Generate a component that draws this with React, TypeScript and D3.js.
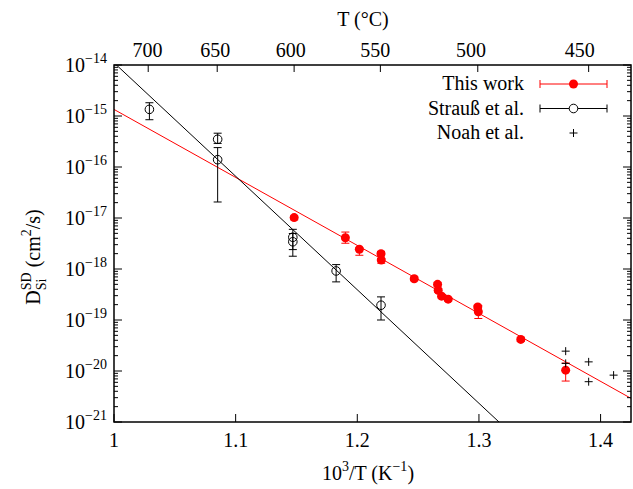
import React from "react";
import * as d3 from "d3";

// ---- data ----
// This work: [1000/T (1/K), D (cm^2/s), err low, err high]
const thisWorkX = [1.1481, 1.1902, 1.2017, 1.2195, 1.2197, 1.2468, 1.266, 1.2665, 1.2693, 1.2747, 1.299, 1.2995, 1.3344, 1.3713];
const thisWorkD = [1.02e-17, 4.1e-18, 2.44e-18, 2.0e-18, 1.5e-18, 6.45e-19, 5.0e-19, 3.84e-19, 2.93e-19, 2.56e-19, 1.8e-19, 1.45e-19, 4.16e-20, 1.04e-20];
const thisWorkLo = [9.2e-18, 3.2e-18, 1.86e-18, 1.8e-18, 1.3e-18, 5.9e-19, 4.6e-19, 3.5e-19, 2.7e-19, 2.35e-19, 1.65e-19, 1.07e-19, 3.8e-20, 6.35e-21];
const thisWorkHi = [1.1e-17, 5.3e-18, 2.6e-18, 2.2e-18, 1.6e-18, 7.0e-19, 5.4e-19, 4.1e-19, 3.1e-19, 2.75e-19, 1.95e-19, 1.9e-19, 4.5e-20, 1.43e-20];

// Strauß et al.
const straussX = [1.0291, 1.0852, 1.0852, 1.147, 1.147, 1.1826, 1.2195];
const straussD = [1.35e-15, 3.5e-16, 1.39e-16, 4.19e-18, 3.42e-18, 9.16e-19, 1.95e-19];
const straussLo = [8.45e-16, 2.9e-16, 2.06e-17, 2.4e-18, 1.78e-18, 5.59e-19, 1.0e-19];
const straussHi = [1.82e-15, 4.6e-16, 2.4e-16, 6.0e-18, 4.96e-18, 1.22e-18, 2.84e-19];

// Noah et al.
const noahX = [1.3713, 1.3713, 1.3902, 1.3902, 1.4107];
const noahD = [2.45e-20, 1.41e-20, 1.51e-20, 6.17e-21, 8.3e-21];

// Arrhenius fits: log10 D = a - b * (1000/T - 1)
const fitThisWork = { a: -14.871, b: 13.33 };
const fitStrauss = { a: -13.955, b: 22.26 };

const xTicks = [1, 1.1, 1.2, 1.3, 1.4];
const xTickLabels = ["1", "1.1", "1.2", "1.3", "1.4"];
const yExps = [-14, -15, -16, -17, -18, -19, -20, -21];
const topTempsC = [700, 650, 600, 550, 500, 450];

const legendLabels = ["This work", "Strauß et al.", "Noah et al."];

const W = 633, H = 489;
const L = 114, R = 631, T = 65, B = 422;
const FONT = "'Liberation Serif', 'DejaVu Serif', serif";

export default function App() {
  const x = d3.scaleLinear().domain([1, 1.425]).range([L, R]);
  const x2 = d3.scaleLinear().domain([1, 1.417]).range([L, R]);
  const y = d3.scaleLog().domain([1e-21, 1e-14]).range([B, T]);

  const fitLine = (f: { a: number; b: number }) => {
    const xs = [1, 1.425];
    const line = d3
      .line<number>()
      .x((v) => x(v))
      .y((v) => y(Math.pow(10, f.a - f.b * (v - 1))));
    return line(xs) || "";
  };

  const minorTicks: number[] = [];
  for (let e = -21; e < -14; e++) {
    for (let m = 2; m <= 9; m++) minorTicks.push(m * Math.pow(10, e));
  }

  const cap = 4;
  const errBar = (px: number, lo: number, hi: number, color: string, key: string) => (
    <g key={key} stroke={color} strokeWidth={1}>
      <line x1={px} x2={px} y1={y(lo)} y2={y(hi)} />
      <line x1={px - cap} x2={px + cap} y1={y(lo)} y2={y(lo)} />
      <line x1={px - cap} x2={px + cap} y1={y(hi)} y2={y(hi)} />
    </g>
  );

  const legX1 = 540, legX2 = 607, legMid = 573.5, legText = 524;
  const legY = [84, 108.5, 133];

  return (
    <svg width={W} height={H} style={{ display: "block", position: "absolute", left: 0, top: 0 }} fontFamily={FONT}>
      <rect width={W} height={H} fill="#fff" />
      <defs>
        <clipPath id="plotClip">
          <rect x={L} y={T} width={R - L} height={B - T} />
        </clipPath>
      </defs>

      {/* fit lines */}
      <g clipPath="url(#plotClip)" fill="none" strokeWidth={1}>
        <path d={fitLine(fitThisWork)} stroke="#ff0000" />
        <path d={fitLine(fitStrauss)} stroke="#000" />
      </g>

      {/* This work */}
      <g>
        {thisWorkX.map((v, i) => errBar(x(v), thisWorkLo[i], thisWorkHi[i], "#ff0000", "tw-e" + i))}
        {thisWorkX.map((v, i) => (
          <circle key={"tw" + i} cx={x(v)} cy={y(thisWorkD[i])} r={4.5} fill="#ff0000" />
        ))}
      </g>

      {/* Strauss */}
      <g>
        {straussX.map((v, i) => errBar(x(v), straussLo[i], straussHi[i], "#000", "st-e" + i))}
        {straussX.map((v, i) => (
          <circle key={"st" + i} cx={x(v)} cy={y(straussD[i])} r={4.3} fill="none" stroke="#000" strokeWidth={1} />
        ))}
      </g>

      {/* Noah */}
      <g stroke="#000" strokeWidth={1}>
        {noahX.map((v, i) => {
          const px = x(v), py = y(noahD[i]);
          return (
            <g key={"n" + i}>
              <line x1={px - 4} x2={px + 4} y1={py} y2={py} />
              <line x1={px} x2={px} y1={py - 4} y2={py + 4} />
            </g>
          );
        })}
      </g>

      {/* frame */}
      <rect x={L} y={T} width={R - L} height={B - T} fill="none" stroke="#000" strokeWidth={1.5} />

      {/* bottom ticks */}
      <g stroke="#000" strokeWidth={1}>
        {xTicks.map((v, i) => (
          <line key={"xt" + i} x1={x(v)} x2={x(v)} y1={B} y2={B - 8} />
        ))}
        {topTempsC.map((tc, i) => {
          const px = x2(1000 / (tc + 273.15));
          return <line key={"tt" + i} x1={px} x2={px} y1={T} y2={T + 7} />;
        })}
        {yExps.map((e, i) => (
          <g key={"yt" + i}>
            <line x1={L} x2={L + 8} y1={y(Math.pow(10, e))} y2={y(Math.pow(10, e))} />
            <line x1={R} x2={R - 8} y1={y(Math.pow(10, e))} y2={y(Math.pow(10, e))} />
          </g>
        ))}
        {minorTicks.map((v, i) => (
          <g key={"ym" + i}>
            <line x1={L} x2={L + 4} y1={y(v)} y2={y(v)} />
            <line x1={R} x2={R - 4} y1={y(v)} y2={y(v)} />
          </g>
        ))}
      </g>

      {/* tick labels */}
      <g fontSize={20} fill="#000">
        {xTicks.map((v, i) => (
          <text key={"xl" + i} x={x(v)} y={B + 25} textAnchor="middle">
            {xTickLabels[i]}
          </text>
        ))}
        {topTempsC.map((tc, i) => (
          <text key={"tl" + i} x={x(1000 / (tc + 273.15))} y={T - 8} textAnchor="middle">
            {tc}
          </text>
        ))}
        {yExps.map((e, i) => (
          <text key={"yl" + i} x={107} y={y(Math.pow(10, e)) + 7} textAnchor="end">
            10<tspan dy={-9} fontSize={14}>{"\u2212" + Math.abs(e)}</tspan>
          </text>
        ))}
      </g>

      {/* axis titles */}
      <g fontSize={20} fill="#000">
        <text x={363} y={26} textAnchor="middle">T (°C)</text>
        <text x={368} y={480} textAnchor="middle">
          10<tspan dy={-9} fontSize={14}>3</tspan>
          <tspan dy={9}>/T (K</tspan>
          <tspan dy={-9} fontSize={14}>{"\u22121"}</tspan>
          <tspan dy={9}>)</tspan>
        </text>
        <text transform="translate(40,257) rotate(-90)" textAnchor="middle">
          D<tspan dy={6} fontSize={14}>Si</tspan>
          <tspan dx={-11.7} dy={-15} fontSize={14}>SD</tspan>
          <tspan dy={9}> (cm</tspan>
          <tspan dy={-9} fontSize={14}>2</tspan>
          <tspan dy={9}>/s)</tspan>
        </text>
      </g>

      {/* legend */}
      <g fontSize={20} fill="#000">
        {legendLabels.map((t, i) => (
          <text key={"lg" + i} x={legText} y={legY[i] + 6} textAnchor="end">
            {t}
          </text>
        ))}
      </g>
      <g strokeWidth={1}>
        <g stroke="#ff0000">
          <line x1={legX1} x2={legX2} y1={legY[0]} y2={legY[0]} />
          <line x1={legX1} x2={legX1} y1={legY[0] - 4} y2={legY[0] + 4} />
          <line x1={legX2} x2={legX2} y1={legY[0] - 4} y2={legY[0] + 4} />
        </g>
        <circle cx={legMid} cy={legY[0]} r={4.5} fill="#ff0000" />
        <g stroke="#000">
          <line x1={legX1} x2={legX2} y1={legY[1]} y2={legY[1]} />
          <line x1={legX1} x2={legX1} y1={legY[1] - 4} y2={legY[1] + 4} />
          <line x1={legX2} x2={legX2} y1={legY[1] - 4} y2={legY[1] + 4} />
          <circle cx={legMid} cy={legY[1]} r={4.3} fill="#fff" />
          <line x1={legMid - 4} x2={legMid + 4} y1={legY[2]} y2={legY[2]} />
          <line x1={legMid} x2={legMid} y1={legY[2] - 4} y2={legY[2] + 4} />
        </g>
      </g>
    </svg>
  );
}
